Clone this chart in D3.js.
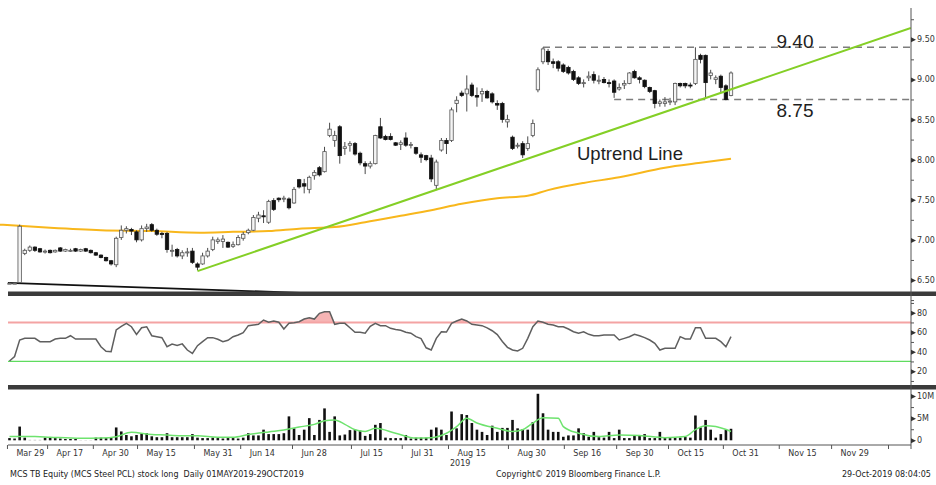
<!DOCTYPE html>
<html>
<head>
<meta charset="utf-8">
<script src="https://cdn.jsdelivr.net/npm/d3@7"></script>
<style>
    body { margin: 0; background: #fff; }
    svg text { font-family: "DejaVu Sans", Verdana, sans-serif; }
    .note { font-family: "Liberation Sans", Arial, sans-serif; fill: #1e1e1e; }
</style>
</head>
<body>
<div id="chart"></div>
<script>

// daily candles, MCS TB
const openP = [
    6.46,6.46,6.47,6.83,6.87,6.91,6.89,6.85,6.87,6.85,
    6.90,6.86,6.87,6.89,6.86,6.89,6.87,6.84,6.81,6.78,
    6.74,6.69,7.03,7.12,7.13,7.10,7.00,7.14,7.19,7.12,
    7.08,7.08,6.86,6.88,6.80,6.84,6.86,6.70,6.70,6.80,
    6.88,6.98,6.98,6.97,6.92,6.94,7.02,7.09,7.12,7.27,
    7.30,7.22,7.49,7.52,7.51,7.51,7.46,7.75,7.70,7.63,
    7.80,7.90,7.85,8.30,8.24,8.41,8.14,8.18,8.20,8.08,
    7.95,7.92,7.95,8.41,8.29,8.29,8.21,8.19,8.27,8.18,
    8.15,8.06,8.05,8.02,7.68,8.12,8.24,8.24,8.70,8.83,
    8.82,8.93,8.80,8.82,8.85,8.82,8.70,8.70,8.47,8.28,
    8.17,8.20,8.14,8.30,8.87,9.22,9.35,9.22,9.22,9.18,
    9.15,9.10,9.02,8.95,9.02,9.06,8.98,9.00,8.96,8.98,
    8.88,8.93,8.95,9.10,9.02,8.99,8.90,8.86,8.70,8.70,
    8.72,8.72,8.95,8.95,8.93,8.95,9.30,9.30,9.05,9.00,
    9.04,8.92,8.80
];
const highP = [
    6.47,6.47,7.19,6.89,6.93,6.92,6.90,6.88,6.88,6.88,
    6.91,6.89,6.89,6.90,6.89,6.90,6.88,6.85,6.82,6.79,
    6.75,7.04,7.18,7.17,7.15,7.12,7.18,7.20,7.21,7.14,
    7.10,7.10,6.94,6.90,6.87,6.90,6.90,6.72,6.84,6.90,
    7.04,7.03,7.06,6.98,6.98,7.06,7.10,7.14,7.31,7.35,
    7.37,7.50,7.52,7.53,7.55,7.53,7.66,7.76,7.76,7.80,
    7.87,7.92,8.16,8.46,8.36,8.43,8.22,8.23,8.22,8.10,
    7.98,7.98,8.31,8.52,8.31,8.33,8.22,8.24,8.34,8.22,
    8.16,8.09,8.06,8.06,8.00,8.27,8.27,8.65,8.79,8.86,
    9.05,8.96,8.90,8.89,8.87,8.84,8.74,8.72,8.56,8.30,
    8.21,8.23,8.29,8.50,9.15,9.40,9.38,9.26,9.24,9.20,
    9.17,9.12,9.04,9.00,9.10,9.10,9.05,9.03,9.00,9.00,
    8.95,8.99,9.09,9.12,9.04,9.00,8.91,8.87,8.75,8.78,
    8.77,8.96,8.96,8.96,8.96,9.40,9.32,9.31,9.12,9.05,
    9.06,8.94,9.10
];
const lowP = [
    6.45,6.45,6.46,6.81,6.85,6.85,6.84,6.83,6.83,6.84,
    6.85,6.85,6.85,6.85,6.85,6.85,6.83,6.80,6.77,6.73,
    6.68,6.66,7.00,7.08,7.06,6.97,6.98,7.10,7.10,7.05,
    7.02,6.84,6.79,6.78,6.76,6.79,6.70,6.62,6.69,6.78,
    6.86,6.95,6.90,6.90,6.90,6.93,6.99,7.07,7.11,7.22,
    7.21,7.20,7.36,7.47,7.47,7.38,7.45,7.64,7.58,7.58,
    7.75,7.79,7.84,8.28,8.16,7.95,8.06,8.10,8.05,7.93,
    7.82,7.89,7.94,8.26,8.24,8.24,8.17,8.12,8.16,8.14,
    8.06,7.96,7.98,7.72,7.62,8.10,8.07,8.22,8.59,8.78,
    8.60,8.78,8.66,8.72,8.76,8.70,8.62,8.46,8.40,8.12,
    8.14,8.02,8.11,8.28,8.84,9.19,9.18,9.14,9.10,9.08,
    9.06,8.98,8.93,8.90,8.98,8.95,8.94,8.95,8.90,8.77,
    8.86,8.88,8.94,9.01,8.95,8.89,8.83,8.64,8.66,8.66,
    8.68,8.68,8.90,8.89,8.89,8.93,9.20,8.77,9.00,8.94,
    8.83,8.74,8.79
];
const closeP = [
    6.46,6.46,7.17,6.87,6.91,6.87,6.85,6.86,6.84,6.87,
    6.86,6.88,6.87,6.86,6.88,6.86,6.84,6.81,6.78,6.74,
    6.70,7.02,7.12,7.14,7.11,7.00,7.14,7.16,7.12,7.07,
    7.07,6.88,6.87,6.80,6.84,6.85,6.72,6.66,6.80,6.86,
    7.00,7.00,7.01,6.91,6.94,7.03,7.07,7.12,7.28,7.31,
    7.29,7.48,7.38,7.50,7.52,7.40,7.63,7.66,7.67,7.78,
    7.84,7.81,8.10,8.38,8.30,8.05,8.16,8.20,8.07,7.96,
    7.92,7.95,8.30,8.27,8.25,8.25,8.18,8.21,8.18,8.19,
    8.08,8.03,8.00,7.76,7.97,8.24,8.20,8.62,8.74,8.80,
    8.88,8.80,8.78,8.85,8.77,8.72,8.68,8.50,8.50,8.14,
    8.18,8.06,8.20,8.45,9.12,9.38,9.22,9.20,9.14,9.10,
    9.08,9.00,8.95,8.96,9.04,8.99,8.99,8.96,8.95,8.84,
    8.90,8.95,9.08,9.02,9.00,8.91,8.85,8.70,8.72,8.72,
    8.73,8.95,8.92,8.92,8.92,9.25,9.25,8.96,9.08,9.02,
    8.90,8.75,9.08
];

// volume, millions of shares
const volume = [
    0.5,0.4,3.1,0.6,0.1,0.1,0.1,0.6,0.6,0.5,
    0.4,0.3,0.3,0.3,0.05,0.05,0.05,0.6,0.6,0.5,
    0.6,2.9,2.0,1.2,0.9,1.2,1.6,1.6,0.9,0.7,
    0.7,1.6,0.7,0.7,0.7,0.7,1.4,0.6,0.5,0.5,
    0.6,0.5,0.4,0.5,0.5,0.4,0.6,1.6,1.1,1.1,
    2.4,1.4,1.4,1.4,1.6,5.4,2.7,1.2,2.4,5.0,
    1.2,4.6,7.2,1.9,5.4,1.1,1.3,2.3,2.4,2.2,
    1.0,1.4,3.5,3.9,0.6,0.5,0.5,0.5,1.2,0.4,
    0.6,0.6,0.6,2.4,2.9,2.4,1.2,6.5,2.7,5.9,
    5.7,3.9,2.4,1.9,1.2,3.3,1.9,2.8,2.8,4.6,
    2.7,2.5,2.4,4.1,10.5,6.1,2.4,1.9,1.9,0.8,
    1.1,1.1,2.7,1.6,0.8,1.9,0.7,0.6,1.9,0.5,
    2.4,0.5,0.5,1.2,1.2,1.4,0.5,0.5,1.9,0.6,
    0.5,0.6,0.6,0.8,0.6,5.6,2.9,4.6,2.4,0.6,
    1.4,2.4,2.6
];

// RSI (14)
const rsi = [
    30.5,35,52,53.7,53.7,53.7,50.3,50.3,50.3,53,
    53.7,53.7,56.4,53,53,53,53,53,45.1,40.5,
    40,62.3,66,69.1,65.6,57.8,64.6,65.6,56.4,55.4,
    54.4,45.1,47.8,46.5,48,41.7,38.3,46.2,50.3,54.4,
    54.4,52.7,50.3,51.7,55.4,57.1,59.5,66.7,67.4,68.1,
    72.5,70.2,71.5,70.2,63.3,69.1,69.7,70.8,73.5,74.9,
    73.5,79.4,81,81,68.1,69.1,69.1,64.6,59.9,59.9,
    58.9,66,69.1,66.7,66.7,64,62.8,62,59.9,59,
    55.4,53.5,44,41.7,53.7,60.5,60.2,69.1,71.5,73.5,
    71.5,68.1,67.4,66.7,64.5,61.5,57.5,50.5,44.5,41.8,
    40.7,43.5,53.7,65.6,71.5,70.2,68.1,67.4,65.6,65.6,
    63.3,60.5,58.9,60.5,57.8,56.4,56.4,57.1,57.1,57.1,
    52,53.7,55.4,57.8,56.4,54.4,52,48.6,41.7,43.5,
    43.5,43.5,55.4,53,53,64.6,64.6,53.7,53.7,53.7,
    50.3,45.1,55.4
];

// long moving average of price (yellow), read at a few bars
const maIdx = [-1.9, 8, 18, 28, 37.5, 44, 51, 57, 64, 70, 77, 83, 89, 96, 102, 106, 113, 120, 129, 136, 142];
const maVal = [7.19, 7.15, 7.12, 7.11, 7.09, 7.10, 7.11, 7.14, 7.16, 7.22, 7.30, 7.37, 7.45, 7.52, 7.55, 7.62, 7.71, 7.78, 7.90, 7.96, 8.01];

// volume moving average (green)
const volMaIdx = [0,5,8,14,18,21,24,28,31,34,37,41,44,47,51,54,57,60,62,64,66,68,70,72,76,80,83,86,88,90,92,96,99,101,103,105,108,109,112,116,120,124,129,133,135,137,139,142];
const volMaVal = [0.85,0.85,0.7,0.45,0.5,0.8,1.8,1.3,1.2,1.0,1.0,0.7,0.7,1.3,1.9,2.3,3.0,3.6,4.4,4.6,3.6,2.4,2.0,2.7,1.6,0.5,0.6,1.6,3.1,5.0,3.9,2.7,2.0,2.4,3.9,5.1,5.0,3.1,1.6,0.85,1.2,1.1,0.6,0.85,2.4,3.3,3.1,2.0];

// annotations
const trendIdx = [37, 177.4];
const trendVal = [6.61, 9.64];
const levelVal = [9.40, 8.75];
const levelStart = [105, 119];
const levelText = ["9.40", "8.75"];
const baseIdx = [-0.3, 57.2];
const baseVal = [6.465, 6.34];

// axes
const priceTicks = [6.5, 7.0, 7.5, 8.0, 8.5, 9.0, 9.5];
const rsiTicks = [20, 40, 60, 80];
const volTicks = [0, 5, 10];
const volTickLabels = ["0", "5M", "10M"];
const dateTickPos = [-0.5, 7.4, 16.4, 25.1, 36.3, 45.4, 55.6, 67.2, 77.2, 86.3, 98.1, 109.1, 119.4, 129.6, 140.4, 151.4, 161.7, 172.9];
const dateTickLabels = ["Mar 29","Apr 17","Apr 30","May 15","May 31","Jun 14","Jun 28","Jul 15","Jul 31","Aug 15","Aug 30","Sep 16","Sep 30","Oct 15","Oct 31","Nov 15","Nov 29",""];


class StockChart {

    constructor(parentElement) {
        this.parentElement = parentElement;
        this.initVis();
    }

    initVis() {
        let vis = this;

        vis.width = 936;
        vis.height = 485;
        vis.left = 8;
        vis.right = 911;   // right axis

        vis.svg = d3.select("#" + vis.parentElement).append("svg")
            .attr("width", vis.width)
            .attr("height", vis.height);

        vis.data = openP.map((o, i) => ({
            i: i, o: o, h: highP[i], l: lowP[i], c: closeP[i], v: volume[i], r: rsi[i]
        }));

        // scales
        vis.x = d3.scaleLinear().domain([0, openP.length - 1]).range([9.5, 731]);
        vis.yP = d3.scaleLinear().domain([6.5, 9.5]).range([280, 39.3]);
        vis.yR = d3.scaleLinear().domain([20, 80]).range([371.2, 312.7]);
        vis.yV = d3.scaleLinear().domain([0, 10]).range([440.3, 396]);

        vis.svg.append("clipPath").attr("id", "clipMain")
            .append("rect").attr("x", 0).attr("y", 8).attr("width", vis.right).attr("height", 286);

        vis.updateVis();
    }

    updateVis() {
        let vis = this;
        let x = vis.x;

        let main = vis.svg.append("g").attr("clip-path", "url(#clipMain)");

        // price moving average
        main.append("path")
            .datum(maIdx.map((d, k) => [d, maVal[k]]))
            .attr("fill", "none")
            .attr("stroke", "#f8b71c")
            .attr("stroke-width", 2)
            .attr("d", d3.line().curve(d3.curveMonotoneX).x(d => x(d[0])).y(d => vis.yP(d[1])));

        // dark base line lower left
        main.append("path")
            .datum(baseIdx.map((d, k) => [d, baseVal[k]]))
            .attr("fill", "none")
            .attr("stroke", "#111")
            .attr("stroke-width", 1.8)
            .attr("d", d3.line().x(d => x(d[0])).y(d => vis.yP(d[1])));

        // support / resistance
        levelVal.forEach((lv, k) => {
            main.append("line")
                .attr("x1", x(levelStart[k])).attr("x2", vis.right)
                .attr("y1", vis.yP(lv)).attr("y2", vis.yP(lv))
                .attr("stroke", "#7d7d7d")
                .attr("stroke-width", 1.4)
                .attr("stroke-dasharray", "7,5");
        });

        // candles
        let candles = main.selectAll("g.candle")
            .data(vis.data)
            .enter()
            .append("g")
            .attr("class", "candle");

        candles.append("line")
            .attr("x1", d => x(d.i)).attr("x2", d => x(d.i))
            .attr("y1", d => vis.yP(d.h)).attr("y2", d => vis.yP(d.l))
            .attr("stroke", "#4a4a4a")
            .attr("stroke-width", 1);

        candles.append("rect")
            .attr("x", d => x(d.i) - 1.7)
            .attr("width", 3.4)
            .attr("y", d => vis.yP(Math.max(d.o, d.c)))
            .attr("height", d => Math.max(1, Math.abs(vis.yP(d.o) - vis.yP(d.c))))
            .attr("fill", d => d.c >= d.o ? "#f4f4f4" : "#111")
            .attr("stroke", d => d.c >= d.o ? "#555" : "#111")
            .attr("stroke-width", 0.8);

        // uptrend line
        main.append("path")
            .datum(trendIdx.map((d, k) => [d, trendVal[k]]))
            .attr("fill", "none")
            .attr("stroke", "#84cf26")
            .attr("stroke-width", 2)
            .attr("d", d3.line().x(d => x(d[0])).y(d => vis.yP(d[1])));

        // annotations
        vis.svg.selectAll("text.level")
            .data(levelVal)
            .enter()
            .append("text")
            .attr("class", "level note")
            .attr("x", 795)
            .attr("y", (d, k) => vis.yP(d) + (k === 0 ? 1 : 18))
            .attr("text-anchor", "middle")
            .style("font-size", "19px")
            .text((d, k) => levelText[k]);

        vis.svg.append("text")
            .attr("class", "note")
            .attr("x", 577)
            .attr("y", 160)
            .style("font-size", "18.5px")
            .text("Uptrend Line");

        // RSI panel
        vis.svg.append("path")
            .datum(vis.data)
            .attr("fill", "#f6b4b4")
            .attr("d", d3.area().x(d => x(d.i)).y0(vis.yR(70)).y1(d => vis.yR(Math.max(d.r, 70))));

        vis.svg.append("line")
            .attr("x1", vis.left).attr("x2", vis.right)
            .attr("y1", vis.yR(70)).attr("y2", vis.yR(70))
            .attr("stroke", "#f4a3a3").attr("stroke-width", 2);

        vis.svg.append("line")
            .attr("x1", vis.left).attr("x2", vis.right)
            .attr("y1", vis.yR(30)).attr("y2", vis.yR(30))
            .attr("stroke", "#5fdc5f").attr("stroke-width", 1.3);

        vis.svg.append("path")
            .datum(vis.data)
            .attr("fill", "none")
            .attr("stroke", "#5f5f5f")
            .attr("stroke-width", 1.5)
            .attr("d", d3.line().x(d => x(d.i)).y(d => vis.yR(d.r)));

        // volume panel
        vis.svg.selectAll("rect.vol")
            .data(vis.data)
            .enter()
            .append("rect")
            .attr("class", "vol")
            .attr("x", d => x(d.i) - 1.3)
            .attr("width", 2.6)
            .attr("y", d => vis.yV(d.v))
            .attr("height", d => vis.yV(0) - vis.yV(d.v))
            .attr("fill", d => d.v < 0.2 ? "#999" : "#111");

        vis.svg.append("path")
            .datum(volMaIdx.map((d, k) => [d, volMaVal[k]]))
            .attr("fill", "none")
            .attr("stroke", "#6ee36e")
            .attr("stroke-width", 1.5)
            .attr("d", d3.line().curve(d3.curveMonotoneX).x(d => x(d[0])).y(d => vis.yV(d[1])));

        // panel separators
        [291.5, 385].forEach(y => {
            vis.svg.append("rect")
                .attr("x", vis.left).attr("y", y)
                .attr("width", vis.width - vis.left).attr("height", 4.5)
                .attr("fill", "#3b3b3b");
        });

        // right axis line and bottom line
        vis.svg.append("line")
            .attr("x1", vis.right).attr("x2", vis.right)
            .attr("y1", 8).attr("y2", 449)
            .attr("stroke", "#555");
        vis.svg.append("line")
            .attr("x1", vis.left).attr("x2", vis.right)
            .attr("y1", 445).attr("y2", 445)
            .attr("stroke", "#555");

        vis.drawRightAxis(vis.yP, priceTicks, d3.range(6.25, 9.8, 0.25), d3.format(".2f"));
        vis.drawRightAxis(vis.yR, rsiTicks, d3.range(10, 100, 10), d => d);
        vis.drawRightAxis(vis.yV, volTicks, [2.5, 7.5], (d, k) => volTickLabels[k]);

        // date axis
        let xAxis = d3.axisBottom(x)
            .tickValues(dateTickPos)
            .tickSize(4)
            .tickFormat((d, k) => dateTickLabels[k]);

        let gx = vis.svg.append("g")
            .attr("class", "x-axis axis")
            .attr("transform", "translate(0,445)")
            .call(xAxis);
        gx.select(".domain").remove();
        gx.selectAll("line").attr("stroke", "#555");
        gx.selectAll("text")
            .attr("text-anchor", "start")
            .attr("x", 9)
            .attr("y", 5)
            .attr("fill", "#333")
            .style("font-size", "8px")
            .style("font-family", "DejaVu Sans, Verdana, sans-serif");

        vis.svg.append("text")
            .attr("x", x(dateTickPos[9]) + 2)
            .attr("y", 466)
            .attr("fill", "#333")
            .style("font-size", "8px")
            .text("2019");

        // footer
        let footer = [
            {x: 10, t: "MCS TB Equity (MCS Steel PCL) stock long  Daily 01MAY2019-29OCT2019"},
            {x: 496, t: "Copyright\u00A9 2019 Bloomberg Finance L.P."},
            {x: 842, t: "29-Oct-2019 08:04:05"}
        ];
        vis.svg.selectAll("text.footer")
            .data(footer)
            .enter()
            .append("text")
            .attr("class", "footer")
            .attr("x", d => d.x)
            .attr("y", 477)
            .attr("fill", "#222")
            .style("font-size", "8px")
            .style("white-space", "pre")
            .text(d => d.t);
    }

    drawRightAxis(scale, major, minor, fmt) {
        let vis = this;

        let g = vis.svg.append("g")
            .attr("class", "y-axis axis")
            .attr("transform", "translate(" + vis.right + ",0)");

        g.call(d3.axisRight(scale).tickValues(minor).tickSize(3).tickFormat(""));
        g.select(".domain").remove();
        g.selectAll("line").attr("stroke", "#555");

        let g2 = vis.svg.append("g")
            .attr("class", "y-axis axis")
            .attr("transform", "translate(" + vis.right + ",0)")
            .call(d3.axisRight(scale).tickValues(major).tickSize(0).tickPadding(6).tickFormat(fmt));
        g2.select(".domain").remove();
        g2.selectAll("text")
            .attr("fill", "#333")
            .style("font-size", "8px")
            .style("font-family", "DejaVu Sans, Verdana, sans-serif");

        // little arrow heads on the major ticks
        g2.selectAll(".tick")
            .append("path")
            .attr("d", "M0,-2.5L5,0L0,2.5Z")
            .attr("fill", "#333");
    }
}

new StockChart("chart");

</script>
</body>
</html>
